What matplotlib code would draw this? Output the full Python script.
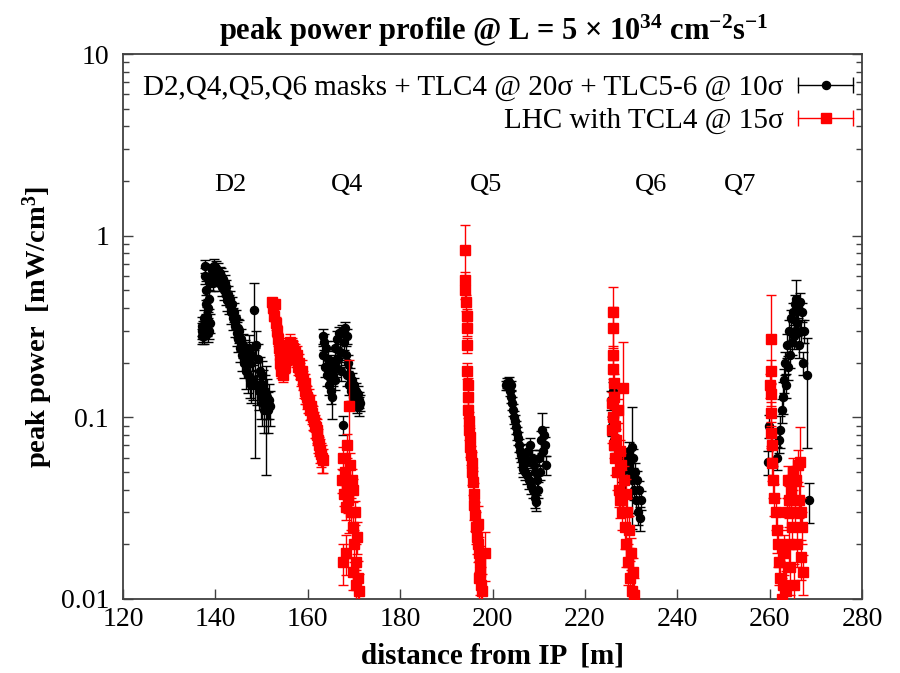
import matplotlib
matplotlib.use('Agg')
import matplotlib.pyplot as plt
import numpy as np
from matplotlib.lines import Line2D
from matplotlib.legend_handler import HandlerLine2D

plt.rcParams['font.family'] = ['Liberation Serif', 'DejaVu Serif']
plt.rcParams['mathtext.fontset'] = 'custom'
plt.rcParams['mathtext.rm'] = 'Liberation Serif'
plt.rcParams['mathtext.it'] = 'Liberation Serif:italic'
plt.rcParams['mathtext.bf'] = 'Liberation Serif:bold'

# ---------------- black series: D2,Q4,Q5,Q6 masks ----------------
black_d2_x = [137.0,137.1,137.2,137.3,137.4,137.5,137.6,137.7,137.8,137.9,
              138.0,138.1,138.2,138.3,138.4,138.5,138.6,138.7,138.8,138.9,
              139.0,139.2,139.4,139.6,139.8,140.0,140.2,140.4,140.6,140.8,
              141.0,141.2,141.4,141.6,141.8,142.0,142.2,142.4,142.6,142.8,
              143.0,143.2,143.4,143.6,143.8,144.0,144.2,144.4,144.6,144.8,
              145.0,145.2,145.4,145.6,145.8,146.0,146.2,146.4,146.6,146.8,
              147.0,147.2,147.4,147.6,147.8,148.0,148.2,148.4,148.6,148.8,
              149.0,149.2,149.4,149.6,149.8,150.0,150.2,150.4,150.6,150.8,
              151.0,151.2,151.4,151.6,151.8]
black_d2_y = [0.30,0.28,0.32,0.29,0.31,0.28,0.35,0.68,0.60,0.50,
              0.42,0.36,0.31,0.29,0.34,0.40,0.30,0.45,0.55,0.33,
              0.60,0.65,0.55,0.62,0.68,0.60,0.66,0.58,0.64,0.55,
              0.62,0.60,0.52,0.58,0.50,0.55,0.47,0.52,0.44,0.48,
              0.42,0.45,0.38,0.42,0.35,0.38,0.32,0.35,0.29,0.31,
              0.27,0.30,0.24,0.27,0.22,0.25,0.20,0.23,0.18,0.21,
              0.17,0.24,0.16,0.20,0.15,0.22,0.16,0.39,0.15,0.25,
              0.15,0.21,0.14,0.18,0.13,0.17,0.12,0.15,0.11,0.14,
              0.12,0.13,0.11,0.125,0.115]
black_d2_err = [0.10,0.10,0.12,0.10,0.10,0.10,0.12,0.08,0.10,0.12,
                0.12,0.12,0.10,0.10,0.12,0.12,0.10,0.12,0.10,0.12,
                0.10,0.08,0.10,0.08,0.10,0.08,0.10,0.08,0.10,0.10,
                0.08,0.10,0.10,0.10,0.12,0.10,0.12,0.10,0.12,0.10,
                0.12,0.10,0.14,0.10,0.14,0.12,0.14,0.12,0.15,0.12,
                0.15,0.14,0.16,0.14,0.18,0.15,0.18,0.16,0.20,0.16,
                0.20,0.18,0.20,0.18,0.20,0.18,0.22,0.40,0.60,0.20,
                0.22,0.20,0.22,0.20,0.25,0.20,0.25,0.22,0.25,0.22,
                0.60,0.25,0.25,0.22,0.22]

black_q4_x = [163.2,163.4,163.6,163.8,164.0,164.2,164.4,164.6,164.8,165.0,
              165.2,165.4,165.6,165.8,166.0,166.2,166.4,166.6,166.8,167.0,
              167.2,167.4,167.6,167.8,168.0,168.2,168.4,168.6,168.8,169.0,
              169.2,169.4,169.6,169.8,170.0,170.2,170.4,170.6,170.8,171.0,
              171.2,171.4]
black_q4_y = [0.28,0.22,0.26,0.19,0.24,0.17,0.21,0.15,0.19,0.14,
              0.13,0.17,0.20,0.16,0.24,0.19,0.27,0.21,0.29,0.23,
              0.18,0.30,0.091,0.26,0.31,0.22,0.28,0.17,0.20,0.15,
              0.17,0.14,0.16,0.13,0.15,0.125,0.14,0.12,0.135,0.115,
              0.125,0.12]
black_q4_err = [0.10,0.12,0.10,0.12,0.10,0.12,0.10,0.12,0.10,0.15,
                0.25,0.12,0.10,0.12,0.10,0.12,0.10,0.12,0.08,0.10,
                0.12,0.08,0.12,0.10,0.08,0.12,0.10,0.12,0.10,0.12,
                0.10,0.12,0.10,0.12,0.10,0.12,0.10,0.12,0.10,0.12,
                0.10,0.10]

black_q5_x = [202.9,203.1,203.3,203.5,203.7,203.9,204.1,204.3,204.5,204.7,
              204.9,205.1,205.3,205.5,205.7,205.9,206.1,206.3,206.5,206.7,
              206.9,207.1,207.3,207.5,207.7,207.9,208.1,208.3,208.5,208.7,
              208.9,209.1,209.3,209.5,209.7,209.9,210.1,210.3,210.5,210.7,
              210.9,211.1,211.3,211.5]
black_q5_y = [0.150,0.155,0.150,0.157,0.140,0.150,0.130,0.120,0.110,0.100,
              0.095,0.088,0.082,0.077,0.070,0.065,0.062,0.058,0.055,0.052,
              0.060,0.050,0.057,0.048,0.065,0.045,0.070,0.042,0.060,0.040,
              0.055,0.036,0.050,0.034,0.045,0.040,0.060,0.050,0.075,0.085,
              0.065,0.080,0.070,0.055]
black_q5_err = [0.06,0.06,0.06,0.06,0.06,0.06,0.08,0.08,0.08,0.08,
                0.08,0.08,0.08,0.08,0.08,0.08,0.08,0.08,0.10,0.10,
                0.10,0.10,0.10,0.10,0.10,0.10,0.10,0.10,0.10,0.10,
                0.10,0.12,0.10,0.10,0.10,0.10,0.10,0.10,0.12,0.25,
                0.12,0.10,0.12,0.12]

black_q6_x = [225.6,225.8,226.0,226.2,226.4,227.0,228.0,228.6,229.0,229.3,
              229.6,229.9,230.1,230.3,230.5,230.7,230.9,231.1,231.3,231.5,
              231.7,231.9,232.1]
black_q6_y = [0.125,0.090,0.140,0.100,0.075,0.060,0.050,0.045,0.060,0.055,
              0.065,0.050,0.069,0.045,0.060,0.040,0.050,0.035,0.045,0.030,
              0.040,0.028,0.035]
black_q6_err = [0.12,0.12,0.12,0.12,0.12,0.12,0.12,0.12,0.12,0.12,
                0.12,0.12,0.65,0.12,0.12,0.12,0.12,0.15,0.12,0.15,
                0.12,0.15,0.12]

black_q7_x = [259.6,259.8,261.6,262.0,262.3,262.6,262.9,263.2,263.4,263.6,
              263.8,264.0,264.2,264.4,264.6,264.8,265.0,265.2,265.4,265.6,
              265.8,266.0,266.2,266.4,266.6,266.8,267.0,267.2,267.4,268.0,
              268.5]
black_q7_y = [0.057,0.090,0.060,0.075,0.085,0.110,0.130,0.160,0.200,0.150,
              0.250,0.190,0.300,0.220,0.350,0.260,0.380,0.280,0.420,0.300,
              0.450,0.330,0.400,0.250,0.430,0.300,0.380,0.200,0.300,0.170,
              0.035]
black_q7_err = [0.15,0.15,0.15,0.15,0.20,0.15,0.20,0.15,0.15,0.15,
                0.15,0.15,0.15,0.15,0.12,0.15,0.12,0.15,0.12,0.15,
                0.27,0.15,0.12,0.15,0.12,0.15,0.12,0.15,0.15,0.60,
                0.25]

# ---------------- red series: LHC with TCL4 ----------------
red_q4a_x = [152.3,152.5,152.7,152.9,153.1,153.3,153.5,153.7,153.9,154.1,
             154.3,154.5,154.7,154.9,155.1,155.3,155.5,155.7,155.9,156.1,
             156.3,156.5,156.7,156.9,157.1,157.3,157.5,157.7,157.9,158.1,
             158.3,158.5,158.7,158.9,159.1,159.3,159.5,159.7,159.9,160.1,
             160.3,160.5,160.7,160.9,161.1,161.3,161.5,161.7,161.9,162.1,
             162.3,162.5,162.7,162.9,163.1,163.3]
red_q4a_y = [0.43,0.40,0.36,0.42,0.33,0.30,0.27,0.24,0.22,0.20,
             0.18,0.19,0.17,0.21,0.19,0.23,0.21,0.25,0.22,0.26,
             0.24,0.25,0.23,0.24,0.22,0.23,0.21,0.22,0.19,0.20,
             0.18,0.17,0.18,0.16,0.15,0.155,0.14,0.135,0.13,0.12,
             0.125,0.11,0.115,0.105,0.10,0.095,0.09,0.088,0.085,0.08,
             0.075,0.07,0.066,0.063,0.06,0.058]
red_q4a_err = [0.06,0.06,0.06,0.06,0.08,0.08,0.08,0.08,0.08,0.08,
               0.08,0.08,0.08,0.08,0.08,0.08,0.08,0.10,0.08,0.10,
               0.08,0.10,0.08,0.10,0.08,0.10,0.10,0.12,0.10,0.12,
               0.10,0.12,0.15,0.12,0.15,0.12,0.15,0.12,0.15,0.12,
               0.15,0.12,0.15,0.12,0.15,0.12,0.15,0.12,0.15,0.12,
               0.15,0.12,0.15,0.15,0.18,0.15]

red_q4b_x = [167.4,167.6,167.8,168.0,168.2,168.4,168.6,168.8,169.0,169.1,
             169.3,169.5,169.7,169.9,170.1,170.3,170.5,170.7,170.9,171.1,
             167.6,168.2,169.8,170.4]
red_q4b_y = [0.045,0.060,0.038,0.050,0.032,0.042,0.070,0.035,0.115,0.055,
             0.030,0.045,0.025,0.040,0.020,0.030,0.016,0.022,0.013,0.011,
             0.016,0.018,0.014,0.012]
red_q4b_err = [0.15,0.15,0.15,0.15,0.15,0.15,0.15,0.15,0.80,0.15,
               0.20,0.15,0.20,0.15,0.20,0.15,0.25,0.20,0.25,0.25,
               0.25,0.25,0.20,0.20]

red_q5_x = [194.0,194.1,194.15,194.3,194.4,194.5,194.5,194.55,194.6,194.7,
            194.8,194.9,195.0,195.1,195.2,195.35,195.5,195.65,195.8,195.9,
            196.1,196.3,196.5,196.7,196.9,197.1,197.2,197.4,197.6,197.8,
            198.4,196.8,197.0]
red_q5_y = [0.83,0.57,0.50,0.43,0.36,0.31,0.25,0.18,0.15,0.13,
            0.11,0.095,0.085,0.078,0.069,0.062,0.056,0.050,0.044,0.038,
            0.033,0.029,0.025,0.022,0.020,0.018,0.016,0.014,0.012,0.011,
            0.018,0.026,0.013]
red_q5_err = [0.38,0.10,0.10,0.10,0.10,0.10,0.10,0.10,0.10,0.10,
              0.10,0.12,0.12,0.12,0.12,0.12,0.15,0.15,0.15,0.15,
              0.18,0.18,0.20,0.20,0.20,0.22,0.22,0.25,0.25,0.25,
              0.30,0.25,0.25]

red_q6_x = [226.0,226.0,226.1,226.1,226.2,225.8,226.0,225.9,226.2,226.4,
            226.5,226.6,226.8,227.0,227.1,227.3,227.5,227.7,227.9,228.1,
            228.3,228.4,228.6,228.8,229.0,229.2,229.4,229.6,229.8,230.0,
            230.2,230.4,230.6]
red_q6_y = [0.38,0.31,0.22,0.185,0.155,0.12,0.10,0.085,0.07,0.13,
            0.09,0.06,0.075,0.05,0.11,0.04,0.065,0.035,0.055,0.03,
            0.145,0.045,0.025,0.038,0.02,0.03,0.016,0.024,0.013,0.018,
            0.011,0.014,0.0105]
red_q6_err = [0.37,0.30,0.12,0.12,0.12,0.15,0.15,0.15,0.15,0.15,
              0.15,0.20,0.15,0.20,0.15,0.20,0.15,0.20,0.15,0.20,
              0.80,0.20,0.25,0.20,0.25,0.20,0.25,0.20,0.25,0.20,
              0.25,0.20,0.25]

red_q7_x = [260.2,260.2,260.3,260.3,260.2,260.0,260.5,260.6,260.8,261.0,
            261.3,261.5,261.8,262.0,262.3,262.6,262.8,263.2,263.5,263.7,
            263.9,264.1,264.3,264.5,264.7,264.9,265.1,265.3,265.5,265.7,
            265.9,266.1,266.3,266.5,266.7,266.9,267.1,267.3]
red_q7_y = [0.27,0.18,0.135,0.105,0.082,0.15,0.07,0.056,0.045,0.036,
            0.03,0.024,0.02,0.016,0.013,0.010,0.012,0.018,0.011,0.03,
            0.045,0.02,0.035,0.015,0.04,0.025,0.05,0.012,0.03,0.045,
            0.02,0.055,0.035,0.057,0.03,0.017,0.025,0.014]
red_q7_err = [0.75,0.15,0.15,0.15,0.15,0.15,0.15,0.20,0.20,0.20,
              0.20,0.25,0.25,0.25,0.25,0.30,0.30,0.25,0.30,0.20,
              0.20,0.25,0.20,0.30,0.20,0.25,0.20,0.30,0.20,0.20,
              0.25,0.20,0.20,0.55,0.20,0.25,0.20,0.25]

magnet_names = ['D2', 'Q4', 'Q5', 'Q6', 'Q7']
magnet_x = [143.2, 168.5, 198.6, 234.3, 253.5]
magnet_y = 1.9

label_black = 'D2,Q4,Q5,Q6 masks + TLC4 @ 20σ + TLC5-6 @ 10σ'
label_red = 'LHC with TCL4 @ 15σ'
x_ticks = [120, 140, 160, 180, 200, 220, 240, 260, 280]
y_ticks = [0.01, 0.1, 1, 10]
y_tick_labels = ['0.01', '0.1', '1', '10']

# -----------------------------------------------------------
black_x = np.array(black_d2_x + black_q4_x + black_q5_x + black_q6_x + black_q7_x)
black_y = np.array(black_d2_y + black_q4_y + black_q5_y + black_q6_y + black_q7_y)
black_e = np.array(black_d2_err + black_q4_err + black_q5_err + black_q6_err + black_q7_err)
red_x = np.array(red_q4a_x + red_q4b_x + red_q5_x + red_q6_x + red_q7_x)
red_y = np.array(red_q4a_y + red_q4b_y + red_q5_y + red_q6_y + red_q7_y)
red_e = np.array(red_q4a_err + red_q4b_err + red_q5_err + red_q6_err + red_q7_err)

fig = plt.figure(figsize=(9, 6.73), dpi=100)
ax = fig.add_axes([123/900, 1 - 599/673, (862-123)/900, (599-54)/673])

frame = '#404040'
ms_circle = 5.8
ms_square = 6.8
ax.errorbar(black_x, black_y, yerr=black_y * black_e, fmt='o', color='black',
            ms=ms_circle, mec='black', elinewidth=1.0, capsize=3.8, capthick=1.0, zorder=3)
ax.errorbar(red_x, red_y, yerr=red_y * red_e, fmt='s', color='#ff0000',
            ms=ms_square, mec='#ff0000', elinewidth=1.0, capsize=3.8, capthick=1.0, zorder=4)

ax.set_yscale('log')
ax.set_xlim(120, 280)
ax.set_ylim(0.01, 10)
ax.set_xticks(x_ticks)
ax.set_xticklabels([str(t) for t in x_ticks])
ax.set_yticks(y_ticks)
ax.set_yticklabels(y_tick_labels)
ax.yaxis.set_minor_locator(matplotlib.ticker.LogLocator(base=10, subs=np.arange(2, 10)))
ax.yaxis.set_minor_formatter(matplotlib.ticker.NullFormatter())
ax.tick_params(which='both', direction='in', right=True, top=False, color=frame, width=1.0)
ax.tick_params(which='major', length=7, labelsize=20)
ax.tick_params(which='minor', length=4)
ax.tick_params(axis='y', which='major', pad=10)
ax.tick_params(axis='x', which='major', pad=6)
for s in ax.spines.values():
    s.set_color(frame)
    s.set_linewidth(1.3)

for name, mx in zip(magnet_names, magnet_x):
    ax.text(mx, magnet_y, name, ha='center', va='center', fontsize=19)

ax.set_xlabel('distance from IP  [m]', fontsize=21, fontweight='bold', labelpad=7)
ax.set_ylabel(r'peak power  [mW/cm$^{\mathbf{3}}$]', fontsize=20.5, fontweight='bold', labelpad=4)
fig.text(494/900, 1 - 31/673,
         r'peak power profile @ L = 5 $\mathbf{\times}$ 10$^{\mathbf{34}}$ cm$^{\mathbf{-2}}$s$^{\mathbf{-1}}$',
         ha='center', va='center', fontsize=22, fontweight='bold')

# legend (gnuplot style: text then horizontal error-bar sample)
bk_bar = Line2D([], [], color='black', lw=1.0, marker='|', ms=11, mew=1.0)
bk_mk = Line2D([], [], color='black', lw=0, marker='o', ms=ms_circle)
rd_bar = Line2D([], [], color='#ff0000', lw=1.0, marker='|', ms=11, mew=1.0)
rd_mk = Line2D([], [], color='#ff0000', lw=0, marker='s', ms=ms_square)
leg = ax.legend([(bk_bar, bk_mk), (rd_bar, rd_mk)], [label_black, label_red],
                loc='upper right', bbox_to_anchor=(1.0, 0.962), frameon=False,
                markerfirst=False, fontsize=21, handlelength=2.5, handletextpad=0.2,
                labelspacing=0.22, borderpad=0, borderaxespad=0,
                handler_map={bk_bar: HandlerLine2D(numpoints=2), rd_bar: HandlerLine2D(numpoints=2),
                             bk_mk: HandlerLine2D(numpoints=1), rd_mk: HandlerLine2D(numpoints=1)})

fig.savefig('out.png', dpi=100)
